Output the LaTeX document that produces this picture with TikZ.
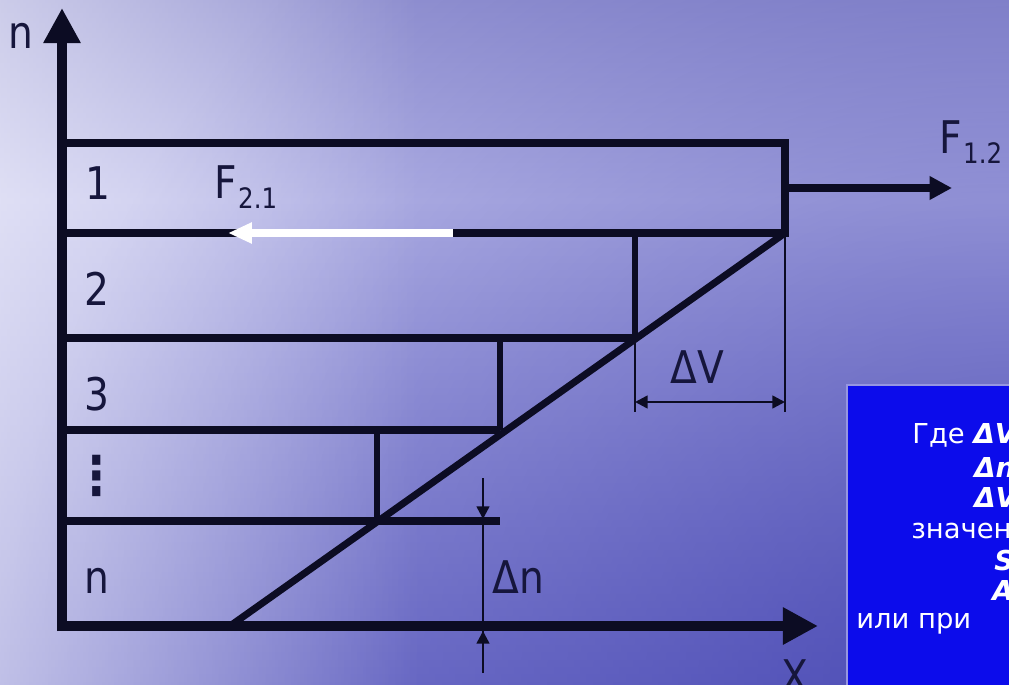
\documentclass[tikz,border=0pt]{standalone}
\usepackage{fontspec}
\setmainfont{DejaVu Sans}[FakeStretch=0.87]
\newfontfamily\cadrefont{DejaVu Sans}
\usetikzlibrary{arrows.meta,positioning,fadings}

\definecolor{trait}{RGB}{12,12,35}
\definecolor{ecrit}{RGB}{22,22,60}
\definecolor{cieltop}{RGB}{148,148,210}
\definecolor{cielclair}{RGB}{188,188,234}
\definecolor{mer}{RGB}{122,122,205}
\definecolor{merfonce}{RGB}{45,45,165}
\definecolor{cadre}{RGB}{12,12,235}
\definecolor{bordcadre}{RGB}{150,150,225}

\tikzfading[name=versdroite, left color=transparent!35, right color=transparent!100]
\tikzfading[name=coin, inner color=transparent!40, outer color=transparent!100]

\begin{document}
\begin{tikzpicture}[
    x=0.025cm,
    y=-0.025cm,
    >=Triangle,
    axe/.style={
        draw=trait,
        line width=7pt,
        -{Triangle[length=25pt,width=25pt]}
    },
    couche/.style={
        draw=trait,
        line width=5pt
    },
    paroi/.style={
        draw=trait,
        line width=3.6pt
    },
    fleche/.style={
        line width=5pt,
        -{Triangle[length=16pt,width=16pt]}
    },
    cote/.style={
        draw=trait,
        line width=1.8pt
    },
    etiquette/.style={
        text=ecrit,
        font=\fontsize{32}{38}\selectfont,
        inner sep=0pt,
        anchor=base west
    },
    texte/.style={
        text=white,
        font=\cadrefont\fontsize{19.5}{23}\selectfont,
        inner sep=0pt,
        anchor=base west
    }
]

\useasboundingbox (0,0) rectangle (1009,685);

% fond : ciel et mer
\begin{scope}
\clip (0,0) rectangle (1009,685);
\fill[top color=cieltop, bottom color=cielclair] (0,0) rectangle (1009,200);
\fill[top color=cielclair, bottom color=mer] (0,200) rectangle (1009,685);
\fill[merfonce, path fading=coin] (1009,685) circle[radius=1000];
\fill[white, path fading=versdroite] (-100,0) rectangle (420,685);
\end{scope}

% reperes
\coordinate (Obas) at (62,631);
\coordinate (Ogauche) at (57,626);
\coordinate (nhaut) at (62,8);
\coordinate (xbout) at (818,626);

\coordinate (h1) at (62,143);
\coordinate (h1d) at (789,143);
\coordinate (h2) at (62,233);
\coordinate (h2d) at (785,233);
\coordinate (h3) at (62,338);
\coordinate (h3d) at (635,338);
\coordinate (h4) at (62,430);
\coordinate (h4d) at (500,430);
\coordinate (h5) at (62,521);
\coordinate (h5d) at (500,521);

\coordinate (p1h) at (785,140);
\coordinate (p1b) at (785,237);
\coordinate (p2h) at (635,233);
\coordinate (p3h) at (500,338);
\coordinate (p4h) at (377,430);
\coordinate (p4b) at (377,521);

\coordinate (d0) at (230,626);

\draw[axe] (Obas) -- (nhaut);
\draw[axe] (Ogauche) -- (xbout);

\draw[couche] (h1) -- (h1d);
\draw[couche] (h2) -- (h2d);
\draw[couche] (h3) -- (h3d);
\draw[couche] (h4) -- (h4d);
\draw[couche] (h5) -- (h5d);

\draw[couche, line width=5.6pt] (p1h) -- (p1b);
\draw[paroi] (p2h) -- (h3d);
\draw[paroi] (p3h) -- (h4d);
\draw[paroi] (p4h) -- (p4b);

\draw[couche] (d0) -- (h2d);

% forces
\coordinate (f12a) at (785,188);
\coordinate (f12b) at (952,188);
\draw[fleche, trait] (f12a) -- (f12b);

\coordinate (f21a) at (453,233);
\coordinate (f21b) at (228,233);
\draw[fleche, white, line width=5.7pt, -{Triangle[length=17pt,width=14pt]}] (f21a) -- (f21b);

% cote Delta V
\coordinate (dv1) at (635,412);
\coordinate (dv2) at (785,412);
\coordinate (dva) at (635,402);
\coordinate (dvb) at (785,402);
\draw[cote] (h3d) -- (dv1);
\draw[cote] (h2d) -- (dv2);
\draw[cote, {Triangle[length=9pt,width=9pt]}-{Triangle[length=9pt,width=9pt]}] (dva) -- (dvb);

% cote Delta n
\coordinate (dn0) at (483,478);
\coordinate (dn1) at (483,519);
\coordinate (dn2) at (483,631);
\coordinate (dn3) at (483,673);
\draw[cote] (dn0) -- (dn3);
\draw[cote, -{Triangle[length=9pt,width=9pt]}] (dn0) -- (dn1);
\draw[cote, -{Triangle[length=9pt,width=9pt]}] (dn3) -- (dn2);

% etiquettes
\node[etiquette] (lbn) at (8,48) {n};
\node[etiquette] (lb1) at (85,199) {1};
\node[etiquette] (lb2) at (84,305) {2};
\node[etiquette] (lb3) at (84,410) {3};
\node[text=ecrit, font=\fontsize{38}{44}\selectfont\bfseries, inner sep=0pt] (lbdots) at (97,476) {⋮};
\node[etiquette] (lbnb) at (84,593) {n};

\node[etiquette] (lbf21) at (214,198) {F\kern1pt\raisebox{-7.8pt}{\fontsize{20}{20}\selectfont 2.1}};
\node[etiquette] (lbf12) at (939,153) {F\kern1pt\raisebox{-7.8pt}{\fontsize{20}{20}\selectfont 1.2}};
\node[etiquette] (lbdv) at (670,383) {ΔV};
\node[etiquette] (lbdn) at (492,593) {Δn};
\node[etiquette] (lbx) at (781,692) {X};

% cadre de texte
\begin{scope}
\clip (0,0) rectangle (1009,685);
\fill[cadre, draw=bordcadre, line width=1.5pt] (847,385) rectangle (1030,700);
\node[texte] (t1) at (912,443) {Где {\bfseries\itshape ΔV}};
\node[texte] (t2) at (974,477) {\bfseries\itshape Δn};
\node[texte] (t3) at (974,507) {\bfseries\itshape ΔV};
\node[texte] (t4) at (911,538) {значение};
\node[texte] (t5) at (994,570) {\bfseries\itshape S};
\node[texte] (t6) at (992,600) {\bfseries\itshape A};
\node[texte] (t7) at (856,628) {или при};
\end{scope}

\end{tikzpicture}
\end{document}
